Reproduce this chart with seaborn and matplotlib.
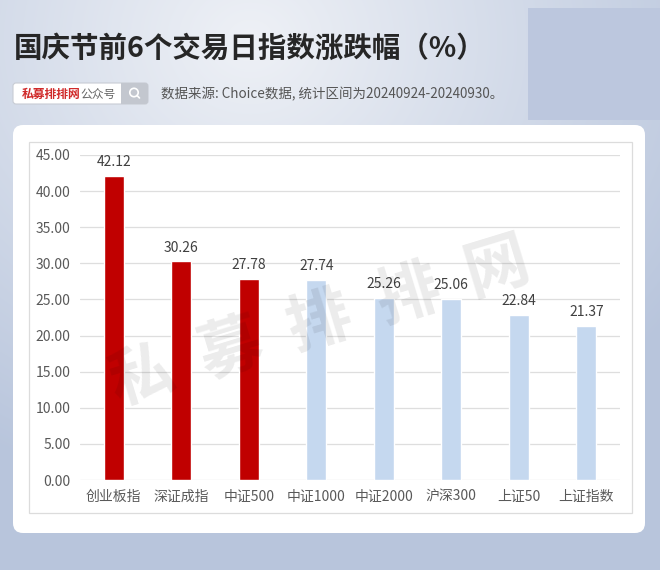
import numpy as np
import pandas as pd
import matplotlib
matplotlib.use("Agg")
import matplotlib.pyplot as plt
from matplotlib.patches import FancyBboxPatch, Rectangle, Circle
from matplotlib.lines import Line2D
import seaborn as sns

# ---------------- data ----------------
categories = ["创业板指", "深证成指", "中证500", "中证1000", "中证2000", "沪深300", "上证50", "上证指数"]
values = [42.12, 30.26, 27.78, 27.74, 25.26, 25.06, 22.84, 21.37]
bar_colors = ["#c00000", "#c00000", "#c00000", "#c5d8ef", "#c5d8ef", "#c5d8ef", "#c5d8ef", "#c5d8ef"]
y_ticks = [0, 5, 10, 15, 20, 25, 30, 35, 40, 45]
title = "国庆节前6个交易日指数涨跌幅（%）"
source = "数据来源: Choice数据, 统计区间为20240924-20240930。"

sns.set_style("white")
plt.rcParams["font.family"] = ["Noto Sans CJK SC", "DejaVu Sans"]

W, H = 660, 570
fig = plt.figure(figsize=(W / 100, H / 100), dpi=100)

# ---------------- background (pixel coordinates) ----------------
bg = fig.add_axes([0, 0, 1, 1])
bg.set_xlim(0, W)
bg.set_ylim(H, 0)
bg.axis("off")
yy, xx = np.mgrid[0:H, 0:W]
d = np.sqrt(((xx - 250) / 520) ** 2 + ((yy - 40) / 460) ** 2)
t = np.clip(d, 0, 1)[..., None]
light = np.array([0.935, 0.945, 0.965])
dark = np.array([0.725, 0.775, 0.865])
img = light * (1 - t) + dark * t
bg.imshow(img, extent=(0, W, H, 0), aspect="auto", zorder=0)
bg.add_patch(Rectangle((528, 8), 132, 112, fc="#bcc7de", ec="none", zorder=1))

# card
bg.add_patch(FancyBboxPatch((13, 125), 632, 408, boxstyle="round,pad=0,rounding_size=10",
                            fc="white", ec="none", zorder=2))
bg.add_patch(Rectangle((29, 142), 603, 371, fill=False, ec="#dcdcdc", lw=0.9, zorder=3))

# title
bg.text(14, 49, title, fontsize=20.5, fontweight="black", color="#262626",
        ha="left", va="center", zorder=4)

# search box
bg.add_patch(FancyBboxPatch((13, 83), 135, 21, boxstyle="round,pad=0,rounding_size=3",
                            fc="white", ec="#c8ccd4", lw=0.8, zorder=3))
bg.add_patch(FancyBboxPatch((121, 83), 27, 21, boxstyle="round,pad=0,rounding_size=3",
                            fc="#c3c7cf", ec="none", zorder=4))
bg.add_patch(Rectangle((121, 83), 6, 21, fc="#c3c7cf", ec="none", zorder=4))
bg.add_patch(Circle((134, 92.5), 4.2, fill=False, ec="white", lw=1.2, zorder=5))
bg.add_line(Line2D([137, 139.5], [95.5, 98], color="white", lw=1.2, zorder=5))
bg.text(22, 94, "私募排排网", fontsize=8.5, fontweight="bold", color="#d02a2a",
        ha="left", va="center", zorder=5)
bg.text(80, 94, "公众号", fontsize=8.5, color="#666666", ha="left", va="center", zorder=5)
bg.text(161, 94, source, fontsize=9.7, color="#555555", ha="left", va="center", zorder=5)

# ---------------- main chart ----------------
ax = fig.add_axes([80 / W, 90 / H, 540 / W, 325 / H])
ax.set_facecolor("none")
df = pd.DataFrame({"idx": categories, "val": values})
sns.barplot(data=df, x="idx", y="val", hue="idx", palette=dict(zip(categories, bar_colors)),
            width=0.3, saturation=1, legend=False, ax=ax, zorder=3)
ax.set_ylim(0, 45)
ax.set_xlim(-0.5, len(categories) - 0.5)
ax.set_yticks(y_ticks)
ax.set_yticklabels([f"{v:.2f}" for v in y_ticks])
ax.yaxis.grid(True, color="#dedede", lw=0.9, zorder=0)
ax.xaxis.grid(False)
for s in ax.spines.values():
    s.set_visible(False)
ax.set_xlabel("")
ax.set_ylabel("")
ax.tick_params(axis="y", length=0, pad=7, labelsize=10, labelcolor="#595959")
ax.tick_params(axis="x", length=0, pad=7, labelsize=10, labelcolor="#595959")
for c in ax.containers:
    ax.bar_label(c, fmt="%.2f", padding=5, fontsize=10, color="#404040")

# watermark
fig.text(320 / W, 1 - 322 / H, "私  募  排  排  网", rotation=17, rotation_mode="anchor",
         ha="center", va="center", fontsize=46, fontweight="black", color="black",
         alpha=0.08, zorder=10)

fig.savefig("out.png", dpi=100)
